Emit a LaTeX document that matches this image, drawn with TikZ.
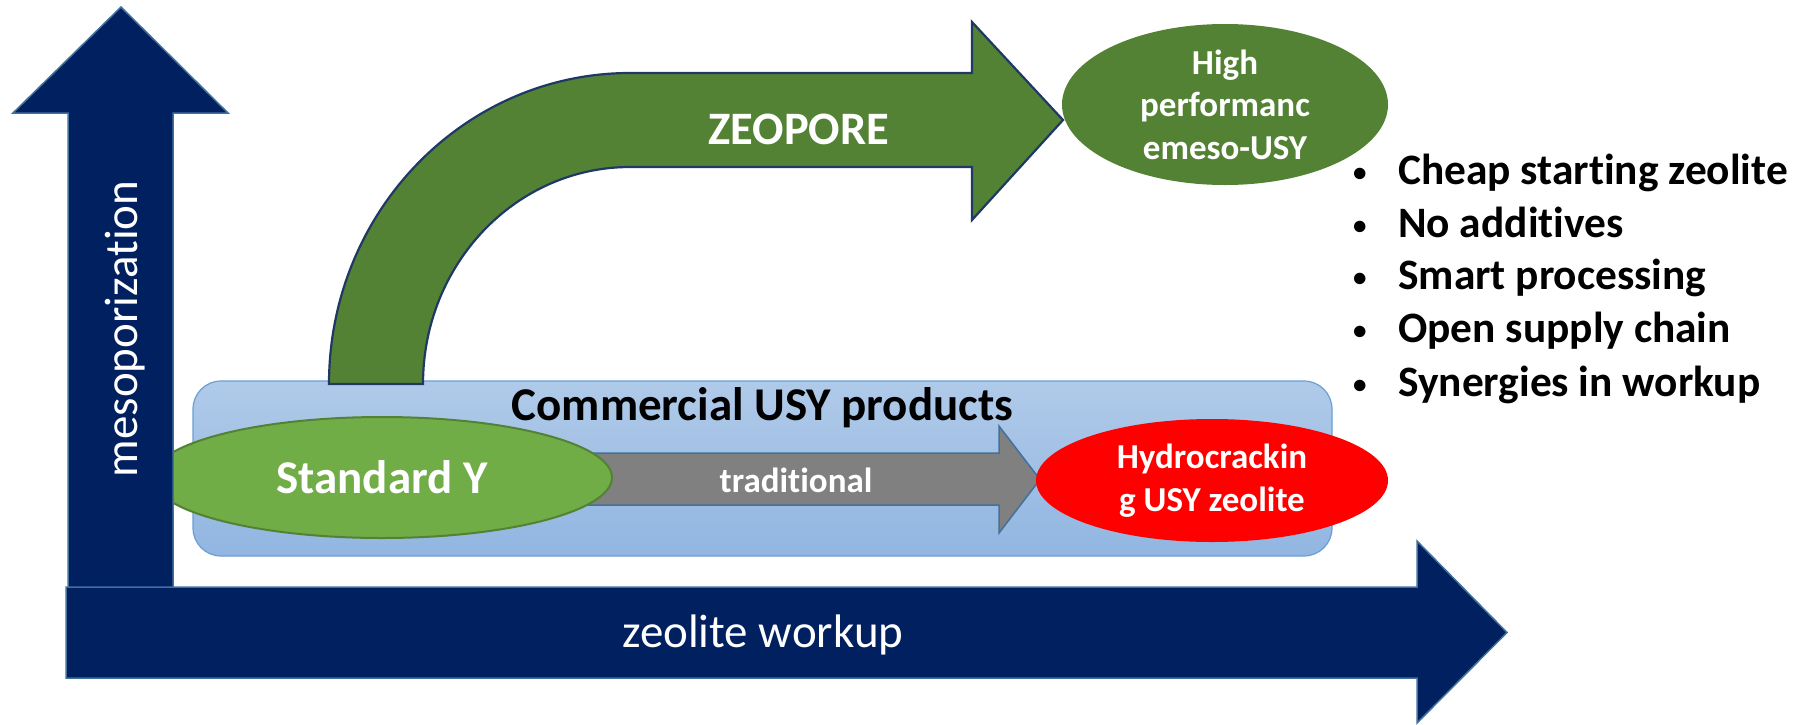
\documentclass[tikz,border=0pt]{standalone}
\usepackage{fontspec}
\setmainfont{Carlito}[Ligatures=NoCommon]
\usetikzlibrary{shapes.geometric}
\definecolor{navy}{HTML}{002060}
\definecolor{navyedge}{HTML}{41719C}
\definecolor{darkgreen}{HTML}{548235}
\definecolor{lightgreen}{HTML}{70AD47}
\definecolor{arrowedge}{HTML}{1F3864}
\definecolor{boxtop}{HTML}{B0CAE9}
\definecolor{boxbot}{HTML}{91B6E1}
\definecolor{boxedge}{HTML}{6A9ED6}
\definecolor{grayfill}{HTML}{808080}
\definecolor{redfill}{HTML}{FF0000}
\newcommand{\smallbul}{\makebox[47pt][l]{\hspace{2pt}\raisebox{3pt}{\fontsize{27}{27}\selectfont •}}}
\begin{document}
\begin{tikzpicture}[x=1pt,y=-1pt,
  axisarrow/.style={fill=navy, draw=navyedge, line width=1.5pt, line join=miter},
  bentarrow/.style={fill=darkgreen, draw=arrowedge, line width=2.2pt, line join=miter},
  tradarrow/.style={fill=grayfill, draw=navyedge, line width=1.5pt, line join=miter},
  usybox/.style={rounded corners=28pt, draw=boxedge, line width=1.2pt, top color=boxtop, bottom color=boxbot, minimum width=1139pt, minimum height=175pt, inner sep=0pt},
  oval/.style={ellipse, inner sep=0pt, text=white, align=center},
  boldtxt/.style={font={\fontsize{#1}{1.215\dimexpr #1pt\relax}\selectfont\bfseries}},
  regtxt/.style={font={\fontsize{#1}{1.215\dimexpr #1pt\relax}\selectfont}},
  bullet/.style={anchor=base west, inner sep=0pt, boldtxt=43.4}
]
\useasboundingbox (0,0) rectangle (1799,724);

% commercial USY box
\node[usybox] (usy) at (762.5,468.5) {};
\node[boldtxt=47, anchor=base, inner sep=0pt] (usylabel) at (762.5,420) {Commercial USY products};

% bent ZEOPORE arrow
\draw[bentarrow] (329,384)
  .. controls (329,212.2) and (463.8,73) .. (630,73)
  -- (972,73) -- (972,22) -- (1063,120) -- (972,220) -- (972,167) -- (630,167)
  .. controls (515.7,167) and (423,264.1) .. (423,384) -- cycle;
\node[boldtxt=46.5, text=white, anchor=base, inner sep=0pt] (zeopore) at (799,144) {ZEOPORE};

% traditional arrow
\draw[tradarrow] (560,453) -- (999,453) -- (999,426) -- (1040,479.5) -- (999,533) -- (999,505) -- (560,505) -- cycle;
\node[boldtxt=35, text=white, anchor=base, inner sep=0pt] (trad) at (796,492) {traditional};

% Standard Y
\node[oval, fill=lightgreen, draw=darkgreen, line width=2pt, minimum width=460pt, minimum height=121pt, boldtxt=47] (stdy) at (382,477.5) {Standard Y};

% Hydrocracking USY zeolite
\node[oval, fill=redfill, minimum width=352pt, minimum height=123pt, boldtxt=35] (hydro) at (1212,480.5) {Hydrocrackin\\g USY zeolite};

% axes
\draw[axisarrow] (68,600) -- (68,113) -- (13,113) -- (121,7) -- (228,113) -- (173,113) -- (173,600) -- cycle;
\node[regtxt=47, text=white, rotate=90, anchor=base, inner sep=0pt] (meso) at (137,329) {mesoporization};
\draw[axisarrow] (66,587) -- (1417,587) -- (1417,541) -- (1507,632.5) -- (1417,723) -- (1417,678) -- (66,678) -- cycle;
\node[regtxt=47, text=white, anchor=base, inner sep=0pt] (workup) at (763,647) {zeolite workup};

% high performance meso-USY
\node[oval, fill=darkgreen, minimum width=326pt, minimum height=161pt, boldtxt=35] (highperf) at (1225,104.5) {High\\performanc\\emeso-USY};

% bullet list
\node[bullet] (b1) at (1351,184) {\smallbul Cheap starting zeolite};
\node[bullet] (b2) at (1351,237) {\smallbul No additives};
\node[bullet] (b3) at (1351,289.5) {\smallbul Smart processing};
\node[bullet] (b4) at (1351,342.5) {\smallbul Open supply chain};
\node[bullet] (b5) at (1351,396) {\smallbul Synergies in workup};
\end{tikzpicture}
\end{document}
